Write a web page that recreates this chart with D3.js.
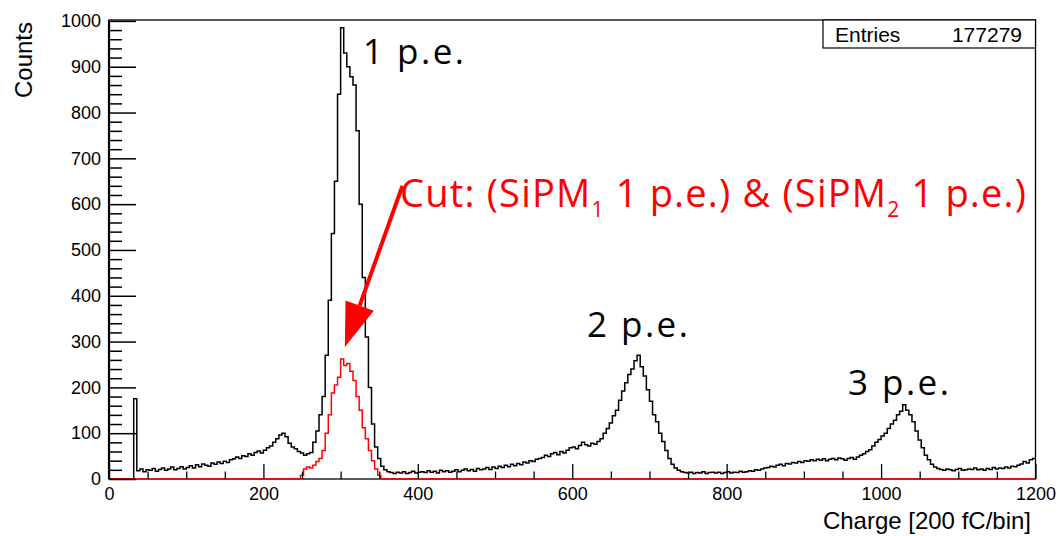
<!DOCTYPE html>
<html>
<head>
<meta charset="utf-8">
<script src="https://cdn.jsdelivr.net/npm/d3@7"></script>
<style>
  html, body { margin: 0; padding: 0; background: #fff; }
  svg { display: block; }
</style>
</head>
<body>
<svg id="chart" width="1059" height="536"></svg>
<script>
// ---------------- data ----------------
const chargeMin = 0, chargeMax = 1200, binWidth = 4;
const countMax = 1002;
const xMajorTicks = [0, 200, 400, 600, 800, 1000, 1200];
const yMajorTicks = [0, 100, 200, 300, 400, 500, 600, 700, 800, 900, 1000];
const xTitle = "Charge [200 fC/bin]";
const yTitle = "Counts";
const entries = 177279;

// all-events histogram, bins of 4 charge units starting at 0
const blackCounts = [
  0, 0, 0, 0, 0, 0, 0, 0, 175,
  18, 22, 16, 20, 19, 23, 17, 21, 24, 19, 22, 26, 20, 23, 27, 22,
  25, 29, 24, 31, 27, 33, 30, 28, 35, 32, 37, 34, 39, 36, 42,
  44, 48, 45, 51, 49, 55, 52, 58, 61, 57,
  63, 68, 72, 80, 88,
  96, 100, 92,
  78, 70, 66, 60, 57, 52, 55,
  58,
  80, 105, 140, 180, 270, 390, 536, 650, 840, 985, 930, 900, 878, 860, 760, 600, 440, 310, 200, 120, 70, 45, 28, 20, 16,
  14, 12, 15, 13, 16, 12, 14, 17, 13, 15,
  16, 14, 18, 15, 17, 13, 19, 16, 18, 15,
  17, 20, 16, 19, 22, 18, 21, 17, 23, 20,
  22, 25, 21, 26, 23, 28, 25, 30, 27, 32,
  29, 34, 31, 37, 35, 40, 38, 43, 45,
  47, 52, 49, 55, 58, 53, 60, 57, 63, 68,
  70, 66, 73, 80, 75, 72, 78, 76, 82, 88,
  100, 110, 122, 138, 150, 172, 192, 210, 228, 240, 258, 270, 245, 225, 195, 170, 140, 125, 100, 82, 62, 45, 32, 24, 19, 16,
  14, 13, 15, 12, 14, 13, 16, 12, 14, 15,
  13, 15, 12, 14, 16, 13, 15, 14, 17, 15,
  16, 18, 17, 20, 19, 22, 24,
  25, 28, 26, 30, 32, 29, 34, 33, 36, 35,
  38, 36, 40, 39, 42, 40, 43,
  41, 44, 40, 43, 45, 42, 46, 44, 41, 45,
  47, 43, 48, 52, 55, 60,
  64, 72, 80, 86, 94, 100, 110, 120, 128, 140, 148, 162, 150, 140, 125, 105, 85, 68, 52, 42, 32, 26, 23,
  21, 19, 22, 20, 18, 21, 23, 19, 20, 22,
  21, 24, 20, 22, 19, 23, 21, 25, 22, 24,
  23, 26, 24, 28, 27, 30, 33,
  38, 35, 42, 45
];

// cut histogram (SiPM1 1 p.e. & SiPM2 1 p.e.), non-empty bins starting at charge 248
const redFirstCharge = 248;
const redCounts = [
  8, 22, 26, 24, 30, 38, 45, 62, 100, 140, 188, 205, 222, 262, 248, 252,
  235, 215, 180, 150, 112, 88, 62, 40, 22, 8
];

// annotations (left / baseline of text, in data units)
const peakLabels = [
  { text: "1 p.e.", charge: 329, count: 907 },
  { text: "2 p.e.", charge: 619, count: 310 },
  { text: "3 p.e.", charge: 957, count: 183 }
];
const cutLabel = { charge: 377, count: 593 };
const arrowTail = { charge: 380, count: 640 };
const arrowTip = { charge: 305.5, count: 288 };

// ---------------- drawing ----------------
const svg = d3.select("#chart");
const x = d3.scaleLinear().domain([chargeMin, chargeMax]).range([109, 1035.5]);
const y = d3.scaleLinear().domain([0, countMax]).range([479, 20]);

const AXFONT = "'Liberation Sans', Arial, Helvetica, sans-serif";
const ANFONT = "'Open Sans', 'Noto Sans', sans-serif";

// frame
svg.append("rect")
  .attr("x", x(chargeMin)).attr("y", y(countMax))
  .attr("width", x(chargeMax) - x(chargeMin))
  .attr("height", y(0) - y(countMax))
  .attr("fill", "none").attr("stroke", "#000").attr("stroke-width", 1.3);

// histogram points
function histPoints(counts, start) {
  const pts = counts.map((c, i) => [start + i * binWidth, c]);
  pts.push([start + counts.length * binWidth, counts[counts.length - 1]]);
  return pts;
}
const line = d3.line()
  .x(d => x(d[0])).y(d => y(d[1]))
  .curve(d3.curveStepAfter);

svg.append("path")
  .attr("d", line(histPoints(blackCounts, chargeMin)))
  .attr("fill", "none").attr("stroke", "#000").attr("stroke-width", 1.5);

// red histogram padded with its empty bins over the full range
const nBins = (chargeMax - chargeMin) / binWidth;
const redFull = d3.range(nBins).map(i => {
  const k = (chargeMin + i * binWidth - redFirstCharge) / binWidth;
  return (k >= 0 && k < redCounts.length) ? redCounts[k] : 0;
});
svg.append("path")
  .attr("d", line(histPoints(redFull, chargeMin)))
  .attr("fill", "none").attr("stroke", "#ff0000").attr("stroke-width", 1.5);

// x axis (ticks inside, pointing up)
const xMinor = d3.range(chargeMin, chargeMax + 1, 50).filter(v => !xMajorTicks.includes(v));
const gx = svg.append("g").attr("transform", `translate(0,${y(0)})`);
gx.call(d3.axisBottom(x).tickValues(xMajorTicks).tickSize(-15).tickPadding(8).tickFormat(d3.format("d")));
const gxm = svg.append("g").attr("transform", `translate(0,${y(0)})`);
gxm.call(d3.axisBottom(x).tickValues(xMinor).tickSize(-7.5).tickFormat(""));
[gx, gxm].forEach(g => {
  g.select(".domain").remove();
  g.selectAll("line").attr("stroke", "#000").attr("stroke-width", 1.3);
});
gx.selectAll("text").attr("font-family", AXFONT).attr("font-size", 18).attr("fill", "#000");

// y axis (ticks inside, pointing right)
const yMinor = d3.range(0, 1001, 20).filter(v => !yMajorTicks.includes(v));
const gy = svg.append("g").attr("transform", `translate(${x(chargeMin)},0)`);
gy.call(d3.axisLeft(y).tickValues(yMajorTicks).tickSize(-27).tickPadding(8).tickFormat(d3.format("d")));
const gym = svg.append("g").attr("transform", `translate(${x(chargeMin)},0)`);
gym.call(d3.axisLeft(y).tickValues(yMinor).tickSize(-13).tickFormat(""));
[gy, gym].forEach(g => {
  g.select(".domain").remove();
  g.selectAll("line").attr("stroke", "#000").attr("stroke-width", 1.5);
});
gy.selectAll("text").attr("font-family", AXFONT).attr("font-size", 18).attr("fill", "#000");
svg.append("line")
  .attr("x1", x(chargeMin)).attr("x2", x(chargeMin))
  .attr("y1", y(countMax)).attr("y2", y(0))
  .attr("stroke", "#000").attr("stroke-width", 2.2);

// axis titles
svg.append("text")
  .attr("x", 1031).attr("y", 529)
  .attr("text-anchor", "end")
  .attr("font-family", AXFONT).attr("font-size", 24)
  .text(xTitle);
svg.append("text")
  .attr("transform", "translate(32,22) rotate(-90)")
  .attr("text-anchor", "end")
  .attr("font-family", AXFONT).attr("font-size", 24)
  .text(yTitle);

// stats box
const box = svg.append("g");
box.append("rect")
  .attr("x", 823).attr("y", y(countMax))
  .attr("width", x(chargeMax) - 823).attr("height", 28)
  .attr("fill", "#fff").attr("stroke", "#000").attr("stroke-width", 1.2);
box.append("text").attr("x", 835).attr("y", 42)
  .attr("font-family", AXFONT).attr("font-size", 21).text("Entries");
box.append("text").attr("x", 1022).attr("y", 42).attr("text-anchor", "end")
  .attr("font-family", AXFONT).attr("font-size", 21).text(String(entries));

// peak annotations
svg.selectAll("text.peak").data(peakLabels).join("text")
  .attr("class", "peak")
  .attr("x", d => x(d.charge)).attr("y", d => y(d.count))
  .attr("font-family", ANFONT).attr("font-size", 35)
  .attr("letter-spacing", 2.5)
  .attr("fill", "#000")
  .text(d => d.text);

// cut label
const cut = svg.append("text")
  .attr("x", x(cutLabel.charge)).attr("y", y(cutLabel.count))
  .attr("font-family", ANFONT).attr("font-size", 38)
  .attr("letter-spacing", 1.2)
  .attr("fill", "#ff0000");
cut.append("tspan").text("Cut: (SiPM");
cut.append("tspan").attr("font-size", 21).attr("dy", 10).text("1");
cut.append("tspan").attr("dy", -10).text(" 1 p.e.) & (SiPM");
cut.append("tspan").attr("font-size", 21).attr("dy", 10).text("2");
cut.append("tspan").attr("dy", -10).text(" 1 p.e.)");

// arrow
const tx = x(arrowTail.charge), ty = y(arrowTail.count);
const hx = x(arrowTip.charge), hy = y(arrowTip.count);
const ang = Math.atan2(hy - ty, hx - tx);
const headLen = 44, headHalf = 15;
const bx = hx - headLen * Math.cos(ang), by = hy - headLen * Math.sin(ang);
svg.append("line")
  .attr("x1", tx).attr("y1", ty).attr("x2", bx).attr("y2", by)
  .attr("stroke", "#ff0000").attr("stroke-width", 4);
svg.append("path")
  .attr("d", `M${hx},${hy}L${bx + headHalf * Math.sin(ang)},${by - headHalf * Math.cos(ang)}L${bx - headHalf * Math.sin(ang)},${by + headHalf * Math.cos(ang)}Z`)
  .attr("fill", "#ff0000");
</script>
</body>
</html>
